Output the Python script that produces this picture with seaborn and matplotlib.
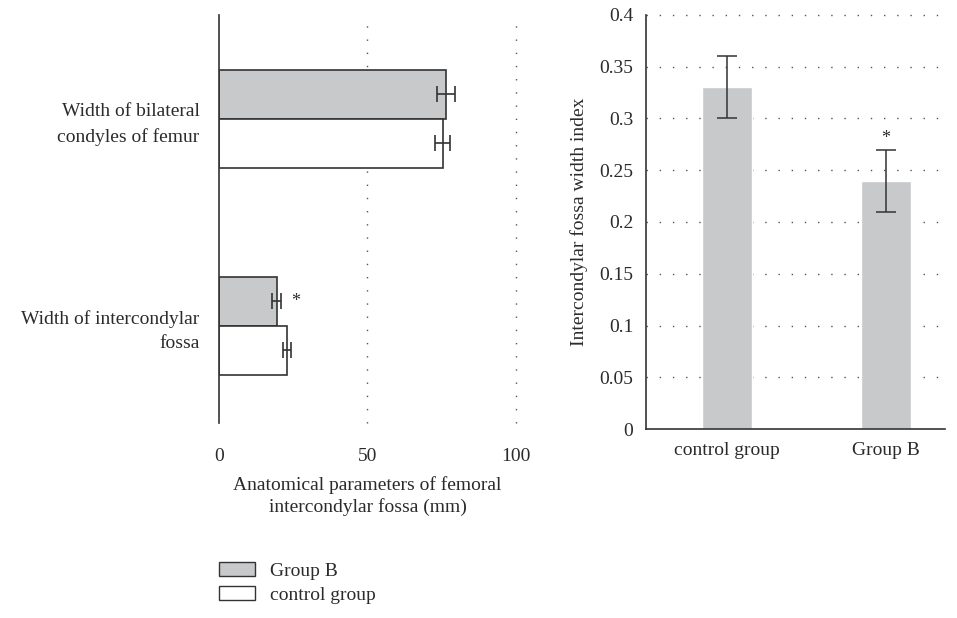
import numpy as np
import pandas as pd
import matplotlib.pyplot as plt
import seaborn as sns
from matplotlib.patches import Patch

# left panel data
params = ["Width of bilateral\ncondyles of femur", "Width of intercondylar\nfossa"]
groups = ["Group B", "control group"]
group_b_mm = [76.4, 19.4]
group_b_err = [3.0, 1.5]
control_mm = [75.4, 22.8]
control_err = [2.5, 1.3]

# right panel data
index_groups = ["control group", "Group B"]
width_index = [0.33, 0.24]
width_index_err = [0.03, 0.03]

sns.set_style("white")
plt.rcParams["font.family"] = ["Liberation Serif", "DejaVu Serif"]
plt.rcParams["font.size"] = 14
plt.rcParams["text.color"] = "#2b2b2b"
plt.rcParams["axes.labelcolor"] = "#2b2b2b"
plt.rcParams["xtick.color"] = "#2b2b2b"
plt.rcParams["ytick.color"] = "#2b2b2b"

gray = "#c8c9cb"
dark = "#333333"
dots = (0, (1, 8.5))

left_df = pd.DataFrame({
    "param": params * 2,
    "group": [groups[0]] * 2 + [groups[1]] * 2,
    "value": group_b_mm + control_mm,
})

fig = plt.figure(figsize=(9.57, 6.18), dpi=100)

# Left: horizontal grouped bars
ax1 = fig.add_axes([0.2288, 0.3155, 0.3103, 0.660])
bw = 0.473
sns.barplot(data=left_df, y="param", x="value", hue="group", hue_order=groups,
            order=params, orient="h", palette=[gray, "white"], width=bw,
            edgecolor=dark, linewidth=1.2, errorbar=None, legend=False, ax=ax1)
pos = np.arange(len(params))
ax1.errorbar(group_b_mm, pos - bw / 4, xerr=group_b_err, fmt="none",
             ecolor=dark, elinewidth=1.2, capsize=6, capthick=1.2)
ax1.errorbar(control_mm, pos + bw / 4, xerr=control_err, fmt="none",
             ecolor=dark, elinewidth=1.2, capsize=6, capthick=1.2)
ax1.text(group_b_mm[1] + group_b_err[1] + 3.5, pos[1] - bw / 4, "*",
         ha="left", va="center", fontsize=13)
ax1.set_xlim(0, 100)
ax1.set_ylim(1.47, -0.50)
ax1.set_xticks([0, 50, 100])
ax1.xaxis.grid(True, linestyle=dots, color="#555555", linewidth=1.0)
xgl = ax1.get_xgridlines()
xgl[0].set_visible(False)
for gl in xgl:
    gl.set_clip_on(False)
ax1.set_axisbelow(True)
for s in ["top", "right", "bottom"]:
    ax1.spines[s].set_visible(False)
ax1.spines["left"].set_color(dark)
ax1.spines["left"].set_linewidth(1.2)
ax1.tick_params(axis="x", length=0, pad=18)
ax1.tick_params(axis="y", length=0, pad=14)
ax1.set_ylabel("")
ax1.set_xlabel("Anatomical parameters of femoral\nintercondylar fossa (mm)",
               labelpad=8, linespacing=1.3)
for lbl in ax1.get_yticklabels():
    lbl.set_multialignment("right")
    lbl.set_linespacing(1.55)

# Right: width index bars
ax2 = fig.add_axes([0.675, 0.3058, 0.3124, 0.670])
sns.barplot(x=index_groups, y=width_index, color=gray, width=0.31,
            saturation=1, errorbar=None, ax=ax2)
ax2.errorbar(np.arange(len(index_groups)), width_index, yerr=width_index_err,
             fmt="none", ecolor=dark, elinewidth=1.1, capsize=7, capthick=1.1)
ax2.text(1, width_index[1] + width_index_err[1] + 0.002, "*",
         ha="center", va="bottom", fontsize=13)
ax2.set_ylim(0, 0.4)
ax2.set_xlim(-0.51, 1.37)
ax2.set_yticks([0, 0.05, 0.1, 0.15, 0.2, 0.25, 0.3, 0.35, 0.4])
ax2.set_yticklabels(["0", "0.05", "0.1", "0.15", "0.2", "0.25", "0.3", "0.35", "0.4"])
ax2.yaxis.grid(True, linestyle=dots, color="#555555", linewidth=1.0)
ygl = ax2.get_ygridlines()
ygl[0].set_visible(False)
for gl in ygl:
    gl.set_clip_on(False)
ax2.set_axisbelow(True)
for s in ["top", "right"]:
    ax2.spines[s].set_visible(False)
for s in ["left", "bottom"]:
    ax2.spines[s].set_color(dark)
    ax2.spines[s].set_linewidth(1.2)
ax2.tick_params(axis="both", length=0, pad=9)
ax2.set_ylabel("Intercondylar fossa width index", labelpad=8)

# legend below left panel
handles = [Patch(facecolor=gray, edgecolor=dark, linewidth=1.0, label="Group B"),
           Patch(facecolor="white", edgecolor=dark, linewidth=1.0, label="control group")]
fig.legend(handles=handles, loc="upper left", bbox_to_anchor=(0.2288, 0.090),
           frameon=False, handlelength=1.85, handleheight=0.72, handletextpad=0.8,
           labelspacing=0.3, borderaxespad=0, borderpad=0)

fig.savefig("out.png", dpi=100)
